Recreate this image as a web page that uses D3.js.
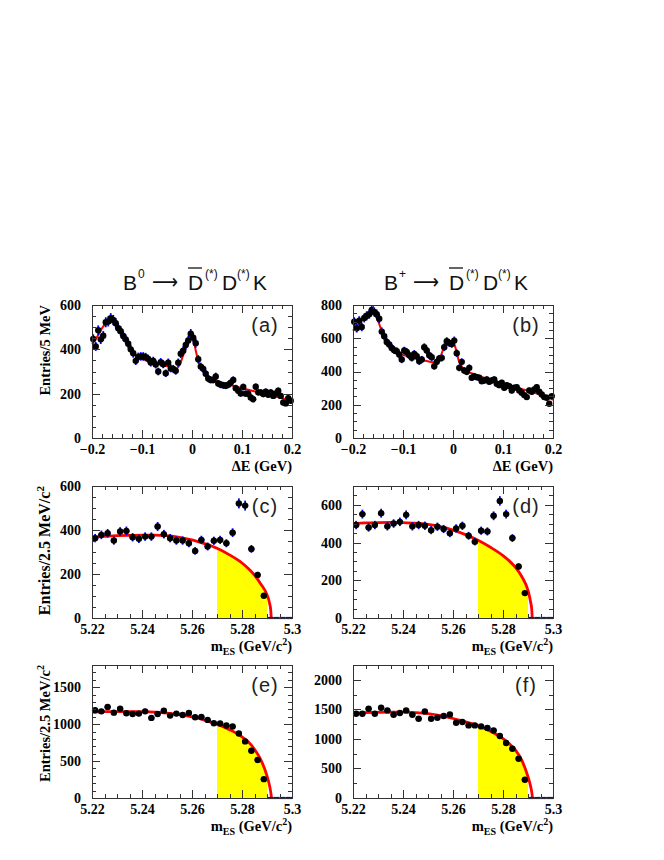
<!DOCTYPE html>
<html><head><meta charset="utf-8">
<script src="https://cdn.jsdelivr.net/npm/d3@7"></script>
<style>body{margin:0;background:#fff} svg{display:block}</style>
</head><body>
<svg id="chart" width="664" height="860"></svg>
<script>
// ---------------- data ----------------
const deBinLo = -0.2, deBinW = 0.005;     // ΔE histogram binning (80 bins)
const mesBinLo = 5.22, mesBinW = 0.0025;  // mES histogram binning (32 bins)

const aValues = [447,413,486,445,461,522,526,540,532,518,
  495,482,460,445,425,400,382,348,366,368,
  368,365,357,341,348,332,300,342,333,292,
  340,314,312,303,340,380,394,420,440,470,
  452,428,355,322,312,290,268,262,262,278,
  246,240,238,236,240,250,262,225,213,201,
  230,200,200,183,175,231,206,206,198,209,
  195,206,190,201,213,190,160,156,180,168];
const bValues = [700,660,706,668,722,735,745,770,758,745,
  718,640,612,578,562,542,528,522,502,472,
  526,518,498,482,506,492,462,472,546,526,
  498,486,432,458,478,482,546,582,572,566,
  586,510,422,458,406,398,422,362,372,366,
  362,342,346,352,338,346,352,326,318,332,
  302,318,312,286,302,306,286,272,258,246,
  286,278,292,306,278,262,246,242,206,252];
const cValues = [363,378,385,352,393,396,367,360,370,370,416,381,363,352,352,340,305,355,325,351,355,340,388,521,511,314,196,101,0,0,0,0];
const dValues = [493,551,480,493,556,486,501,510,547,486,493,489,466,484,472,450,475,489,436,405,463,459,542,621,551,424,273,132,0,0,0,0];
const eValues = [1187,1173,1231,1155,1209,1146,1137,1142,1173,1084,1137,1182,1115,1142,1124,1151,1093,1097,1057,1012,1008,981,967,873,766,640,515,255,0,0,0,0];
const fValues = [1425,1425,1510,1425,1527,1482,1408,1437,1482,1408,1341,1465,1341,1358,1386,1414,1273,1285,1228,1228,1211,1183,1144,1048,930,834,665,310,0,0,0,0];

// fit curves: [x, y]
const aFit = [[-0.2,425],[-0.19,455],[-0.18,495],[-0.17,525],[-0.163,532],[-0.155,520],[-0.145,490],[-0.135,455],[-0.125,415],[-0.115,380],[-0.105,362],[-0.09,350],[-0.075,340],[-0.06,330],[-0.045,320],[-0.032,312],[-0.025,330],[-0.018,370],[-0.01,420],[-0.005,455],[-0.002,462],[0.002,452],[0.006,410],[0.01,370],[0.015,330],[0.022,300],[0.03,285],[0.04,270],[0.06,250],[0.08,237],[0.1,225],[0.12,213],[0.14,202],[0.16,192],[0.18,180],[0.2,165]];
const bFit = [[-0.2,645],[-0.19,680],[-0.18,715],[-0.17,750],[-0.163,760],[-0.155,735],[-0.148,690],[-0.14,620],[-0.13,570],[-0.12,535],[-0.11,515],[-0.1,500],[-0.085,488],[-0.07,475],[-0.055,465],[-0.04,456],[-0.032,460],[-0.025,490],[-0.018,545],[-0.01,575],[-0.004,580],[0.002,568],[0.007,520],[0.012,460],[0.02,420],[0.03,400],[0.05,375],[0.07,355],[0.09,335],[0.11,315],[0.13,300],[0.15,285],[0.17,265],[0.19,243],[0.2,230]];
const cFit = [[5.22,367],[5.225,371],[5.23,374],[5.235,376],[5.24,377],[5.245,377],[5.25,374],[5.255,367],[5.26,355],[5.265,338],[5.27,317],[5.275,287],[5.28,250],[5.2825,225],[5.285,195],[5.2875,155],[5.29,106],[5.2905,90],[5.291,68],[5.2915,35],[5.2917,0]];
const dFit = [[5.22,500],[5.225,504],[5.23,506],[5.235,507],[5.24,506],[5.245,503],[5.25,496],[5.255,484],[5.26,466],[5.265,442],[5.27,412],[5.275,375],[5.28,331],[5.2825,303],[5.285,268],[5.2875,220],[5.29,146],[5.2905,120],[5.291,88],[5.2915,45],[5.2917,0]];
const eFit = [[5.22,1164],[5.225,1168],[5.23,1170],[5.235,1170],[5.24,1168],[5.245,1162],[5.25,1150],[5.255,1130],[5.26,1097],[5.265,1055],[5.27,999],[5.275,925],[5.28,828],[5.2825,760],[5.285,660],[5.2875,520],[5.29,300],[5.2905,240],[5.291,170],[5.2915,80],[5.2918,0]];
const fFit = [[5.22,1437],[5.225,1445],[5.23,1450],[5.235,1453],[5.24,1452],[5.245,1445],[5.25,1428],[5.255,1395],[5.26,1345],[5.265,1290],[5.27,1225],[5.275,1130],[5.28,1005],[5.2825,920],[5.285,810],[5.2875,640],[5.29,360],[5.2905,290],[5.291,205],[5.2915,100],[5.2918,0]];

// tick labels
const deTicks = [-0.2, -0.1, 0, 0.1, 0.2];
const mesTicks = [5.22, 5.24, 5.26, 5.28, 5.3];
const aYTicks = [0, 200, 400, 600];
const bYTicks = [0, 200, 400, 600, 800];
const cYTicks = [0, 200, 400, 600];
const dYTicks = [0, 200, 400, 600];
const eYTicks = [0, 500, 1000, 1500];
const fYTicks = [0, 500, 1000, 1500, 2000];
const panelLabels = ["(a)", "(b)", "(c)", "(d)", "(e)", "(f)"];

// ---------------- layout ----------------
const svg = d3.select("#chart");
const colX = [[92, 292], [353, 553]];
const rowY = [[305, 438], [486, 618], [665, 798]];
const serif = "'Liberation Serif','Times New Roman',serif";
const sans = "'Liberation Sans',Arial,sans-serif";

const panels = [
  {col:0,row:0,kind:"de", values:aValues, fit:aFit, yMax:600,  yTicks:aYTicks, yMinor:50,  label:panelLabels[0], ytitle:"Entries/5 MeV", ytSize:14.5},
  {col:1,row:0,kind:"de", values:bValues, fit:bFit, yMax:800,  yTicks:bYTicks, yMinor:50,  label:panelLabels[1]},
  {col:0,row:1,kind:"mes",values:cValues, fit:cFit, yMax:600,  yTicks:cYTicks, yMinor:50,  label:panelLabels[2], ytitle:"Entries/2.5 MeV/c", ytSize:16},
  {col:1,row:1,kind:"mes",values:dValues, fit:dFit, yMax:700,  yTicks:dYTicks, yMinor:50,  label:panelLabels[3]},
  {col:0,row:2,kind:"mes",values:eValues, fit:eFit, yMax:1800, yTicks:eYTicks, yMinor:100, label:panelLabels[4], ytitle:"Entries/2.5 MeV/c", ytSize:14.5},
  {col:1,row:2,kind:"mes",values:fValues, fit:fFit, yMax:2250, yTicks:fYTicks, yMinor:250, label:panelLabels[5]}
];

function styleAxis(g, labels) {
  g.select(".domain").remove();
  g.attr("color", "#333").attr("font-family", serif).attr("font-size", 14).attr("font-weight", "bold");
  g.selectAll("line").attr("shape-rendering", "crispEdges");
  g.selectAll("text").attr("fill", "#000");
  if (!labels) g.selectAll("text").remove();
}

panels.forEach(p => {
  const [x0, x1] = colX[p.col], [y0, y1] = rowY[p.row];
  const isDE = p.kind === "de";
  const xDom = isDE ? [-0.2, 0.2] : [5.22, 5.3];
  const binLo = isDE ? deBinLo : mesBinLo, binW = isDE ? deBinW : mesBinW;
  const x = d3.scaleLinear().domain(xDom).range([x0, x1]);
  const y = d3.scaleLinear().domain([0, p.yMax]).range([y1, y0]);
  const g = svg.append("g");

  const curve = d3.curveMonotoneX;
  // shaded signal region
  if (!isDE) {
    const pts = p.fit.filter(d => d[0] >= 5.27 - 1e-9 && d[0] <= 5.29 + 1e-9);
    g.append("path").datum(pts)
      .attr("d", d3.area().x(d => x(d[0])).y0(y(0)).y1(d => y(d[1])).curve(curve))
      .attr("fill", "#ffff00");
  }
  // fit curve
  g.append("path").datum(p.fit)
    .attr("d", d3.line().x(d => x(d[0])).y(d => y(d[1])).curve(curve))
    .attr("fill", "none").attr("stroke", "#ff0000")
    .attr("stroke-width", isDE ? 2 : 2.8).attr("stroke-linejoin", "round");

  // data points
  const bins = p.values.map((v, i) => ({lo: binLo + binW * i, hi: binLo + binW * (i + 1), c: binLo + binW * (i + 0.5), v}));
  const pg = g.append("g");
  const nz = bins.filter(b => b.v > 0);
  pg.selectAll(".ev").data(nz).join("line")
    .attr("x1", b => x(b.c)).attr("x2", b => x(b.c))
    .attr("y1", b => y(b.v - Math.sqrt(b.v))).attr("y2", b => y(b.v + Math.sqrt(b.v)))
    .attr("stroke", "#0000ff").attr("stroke-width", 1.8);
  pg.selectAll(".eh").data(bins).join("line")
    .attr("x1", b => x(b.lo)).attr("x2", b => x(b.hi))
    .attr("y1", b => y(b.v)).attr("y2", b => y(b.v))
    .attr("stroke", "#0000ff").attr("stroke-width", b => b.v > 0 ? 1.8 : 2.2);
  pg.selectAll("circle").data(nz).join("circle")
    .attr("cx", b => x(b.c)).attr("cy", b => y(b.v)).attr("r", 3.2)
    .attr("fill", "#000");

  // axes (ticks on all four sides, pointing inward)
  const xMinor = d3.range(xDom[0], xDom[1] + 1e-9, isDE ? 0.02 : 0.005);
  const yMinor = d3.range(0, p.yMax + 1e-9, p.yMinor);
  const fmtX = isDE ? (d => d === 0 ? "0" : d3.format(".1f")(d)) : (d => d3.format("")(+d.toFixed(2)));
  g.append("g").attr("transform", `translate(0,${y1})`)
    .call(d3.axisBottom(x).tickValues(xMinor).tickSize(-4).tickFormat("")).call(a => styleAxis(a, false));
  g.append("g").attr("transform", `translate(0,${y1})`)
    .call(d3.axisBottom(x).tickValues(isDE ? deTicks : mesTicks).tickSize(-8).tickPadding(6).tickFormat(fmtX)).call(a => styleAxis(a, true));
  g.append("g").attr("transform", `translate(0,${y0})`)
    .call(d3.axisTop(x).tickValues(xMinor).tickSize(-4).tickFormat("")).call(a => styleAxis(a, false));
  g.append("g").attr("transform", `translate(0,${y0})`)
    .call(d3.axisTop(x).tickValues(isDE ? deTicks : mesTicks).tickSize(-8).tickFormat("")).call(a => styleAxis(a, false));
  g.append("g").attr("transform", `translate(${x0},0)`)
    .call(d3.axisLeft(y).tickValues(yMinor).tickSize(-4).tickFormat("")).call(a => styleAxis(a, false));
  g.append("g").attr("transform", `translate(${x0},0)`)
    .call(d3.axisLeft(y).tickValues(p.yTicks).tickSize(-8).tickPadding(11).tickFormat(d3.format("d"))).call(a => styleAxis(a, true));
  g.append("g").attr("transform", `translate(${x1},0)`)
    .call(d3.axisRight(y).tickValues(yMinor).tickSize(-4).tickFormat("")).call(a => styleAxis(a, false));
  g.append("g").attr("transform", `translate(${x1},0)`)
    .call(d3.axisRight(y).tickValues(p.yTicks).tickSize(-8).tickFormat("")).call(a => styleAxis(a, false));

  // frame
  g.append("rect").attr("x", x0).attr("y", y0).attr("width", x1 - x0).attr("height", y1 - y0)
    .attr("fill", "none").attr("stroke", "#333").attr("stroke-width", 1).attr("shape-rendering", "crispEdges");

  // panel label
  g.append("text").attr("x", x1 - 27).attr("y", y0 + 27).attr("text-anchor", "middle")
    .attr("font-family", sans).attr("font-size", 20).attr("fill", "#222").attr("letter-spacing", 1).text(p.label);

  // x title
  const xt = g.append("text").attr("x", x1).attr("y", y1 + 33).attr("text-anchor", "end")
    .attr("font-family", serif).attr("font-weight", "bold").attr("font-size", 14.5).attr("fill", "#000");
  if (isDE) {
    xt.text("ΔE (GeV)");
  } else {
    xt.append("tspan").text("m");
    xt.append("tspan").attr("dy", 4).attr("font-size", 10).text("ES");
    xt.append("tspan").attr("dy", -4).text(" (GeV/c");
    xt.append("tspan").attr("dy", -6).attr("font-size", 10).text("2");
    xt.append("tspan").attr("dy", 6).text(")");
  }

  // y title
  if (p.ytitle) {
    const yt = g.append("text").attr("transform", `translate(50,${y0}) rotate(-90)`).attr("text-anchor", "end")
      .attr("font-family", serif).attr("font-weight", "bold").attr("font-size", p.ytSize).attr("fill", "#000");
    yt.append("tspan").text(p.ytitle);
    if (!isDE) yt.append("tspan").attr("dy", -6).attr("font-size", p.ytSize * 0.7).text("2");
  }
});

// ---------------- column titles ----------------
function columnTitle(x0, charge) {
  const base = 290, supBase = 278;
  const t = svg.append("text").attr("font-family", sans).attr("font-size", 21).attr("fill", "#111");
  t.append("tspan").attr("x", x0).attr("y", base).text("B");
  t.append("tspan").attr("x", x0 + 15).attr("y", supBase).attr("font-size", 12).text(charge);
  t.append("tspan").attr("x", x0 + 29).attr("y", base - 1).attr("font-family", "'DejaVu Sans'")
    .attr("textLength", 26).attr("lengthAdjust", "spacingAndGlyphs").text("⟶");
  t.append("tspan").attr("x", x0 + 65).attr("y", base).text("D");
  t.append("tspan").attr("x", x0 + 82).attr("y", supBase).attr("font-size", 12).text("(*)");
  t.append("tspan").attr("x", x0 + 99).attr("y", base).text("D");
  t.append("tspan").attr("x", x0 + 114).attr("y", supBase).attr("font-size", 12).text("(*)");
  t.append("tspan").attr("x", x0 + 130).attr("y", base).text("K");
  svg.append("line").attr("x1", x0 + 65).attr("x2", x0 + 79).attr("y1", 268).attr("y2", 268)
    .attr("stroke", "#111").attr("stroke-width", 1.3);
}
columnTitle(123, "0");
columnTitle(384, "+");
</script>
</body></html>
